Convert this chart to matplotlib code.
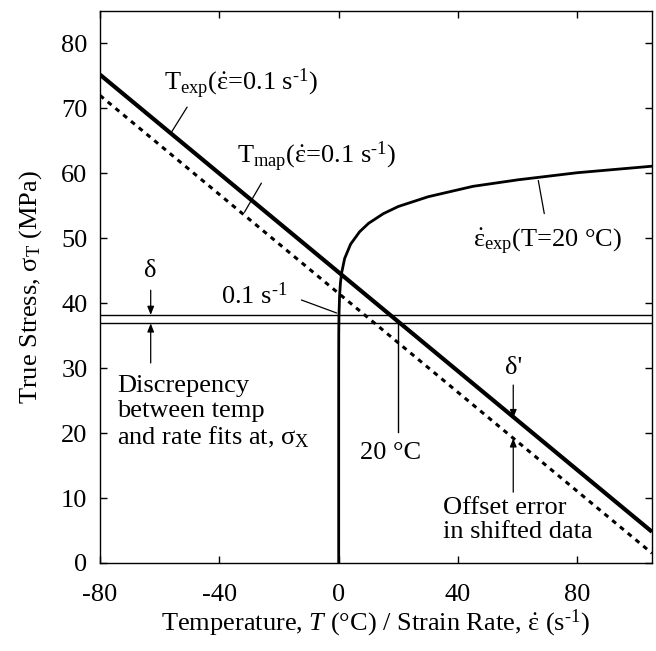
import numpy as np
import matplotlib
matplotlib.use("Agg")
import matplotlib.pyplot as plt

plt.rcParams["font.family"] = ["Liberation Serif", "DejaVu Serif"]
plt.rcParams["mathtext.fontset"] = "custom"
plt.rcParams["mathtext.rm"] = "Liberation Serif"
plt.rcParams["mathtext.it"] = "Liberation Serif:italic"
plt.rcParams["mathtext.bf"] = "Liberation Serif:bold"
plt.rcParams["axes.unicode_minus"] = False

# straight fits: temperature axis (deg C) vs true stress (MPa)
temp_ends = [-80, 105]
t_exp_stress = [75.2, 4.8]
t_map_stress = [72.0, 1.5]

# strain-rate curve at 20 C
rate = [0.0, 0.0005, 0.003, 0.01, 0.03, 0.1, 0.3, 0.6, 1.0, 2.0, 4.0, 7.0,
        10.0, 15.0, 20.0, 30.0, 45.0, 60.0, 80.0, 105.0]
rate_stress = [0.0, 26.0, 30.5, 32.8, 35.5, 38.2, 41.2, 43.2, 44.7, 46.9,
               49.1, 51.0, 52.3, 53.8, 54.9, 56.4, 58.0, 59.0, 60.1, 61.1]

# the two horizontal stress levels and the 20 C marker
sigma_rate = 38.2
sigma_temp = 36.9
t_ref = 20

xticks = [-80, -40, 0, 40, 80]
yticks = [0, 10, 20, 30, 40, 50, 60, 70, 80]

EPSD = r"$\dot{\mathrm{ε}}$"
INV_S = r"s$^{\text{-1}}$"

fig = plt.figure(figsize=(6.56, 6.51), dpi=100)
ax = fig.add_axes([0.1524, 0.1352, 0.9939 - 0.1524, 0.9831 - 0.1352])

ax.plot(temp_ends, t_exp_stress, color="black", lw=3.0, solid_capstyle="butt")
ax.plot(temp_ends, t_map_stress, color="black", lw=2.2,
        linestyle=(0, (1.6, 1.7)))
ax.plot(rate, rate_stress, color="black", lw=2.0)

ax.axhline(sigma_rate, color="black", lw=1.0)
ax.axhline(sigma_temp, color="black", lw=1.0)
ax.plot([t_ref, t_ref], [sigma_temp, 20.2], color="black", lw=1.0)

fs = 19
arrow = dict(arrowstyle="-|>,head_length=0.5,head_width=0.2", color="black",
             lw=0.9, shrinkA=0, shrinkB=0)
leader = dict(arrowstyle="-", color="black", lw=0.9, shrinkA=0, shrinkB=0)

ax.text(-58.5, 73.8, r"T$_{\rm exp}$(" + EPSD + "=0.1 " + INV_S + ")",
        fontsize=fs, va="center", ha="left")
ax.annotate("", xy=(-56.1, 66.3), xytext=(-50.8, 70.2), arrowprops=leader)

ax.text(-34.0, 62.5, r"T$_{\rm map}$(" + EPSD + "=0.1 " + INV_S + ")",
        fontsize=fs, va="center", ha="left")
ax.annotate("", xy=(-31.6, 54.0), xytext=(-25.9, 58.5), arrowprops=leader)

ax.text(45.0, 49.4, r"$\dot{\mathrm{ε}}_{\rm exp}$(T=20 °C)",
        fontsize=fs, va="center", ha="left")
ax.annotate("", xy=(66.9, 58.9), xytext=(68.9, 53.8), arrowprops=leader)

ax.text(-39.3, 41.2, "0.1 " + INV_S, fontsize=fs, va="center", ha="left")
ax.annotate("", xy=(-0.7, 38.5), xytext=(-12.5, 40.5), arrowprops=leader)

ax.text(-63.0, 45.0, "δ", fontsize=fs, va="center", ha="center")
ax.annotate("", xy=(-63.0, sigma_rate), xytext=(-63.0, 42.0), arrowprops=arrow)
ax.annotate("", xy=(-63.0, sigma_temp), xytext=(-63.0, 30.8), arrowprops=arrow)

ax.text(-74.3, 29.0, "Discrepency\nbetween temp\nand rate fits at, σ$_{\\rm X}$",
        fontsize=fs, va="top", ha="left", linespacing=1.18)

ax.text(7.0, 16.9, "20 °C", fontsize=fs, va="center", ha="left")

ax.text(58.5, 30.0, "δ'", fontsize=fs, va="center", ha="center")
ax.annotate("", xy=(58.5, 22.3), xytext=(58.5, 27.4), arrowprops=arrow)
ax.annotate("", xy=(58.5, 19.2), xytext=(58.5, 10.9), arrowprops=arrow)

ax.text(35.0, 10.2, "Offset error\nin shifted data", fontsize=fs,
        va="top", ha="left", linespacing=1.15)

ax.set_xlim(-80, 105)
ax.set_ylim(0, 85)
ax.set_xticks(xticks)
ax.set_yticks(yticks)
ax.tick_params(direction="in", length=5, width=1.0, top=True, right=True,
               labelsize=fs, pad=9)
ax.tick_params(axis="x", pad=15)
for s in ax.spines.values():
    s.set_linewidth(1.0)

ax.set_xlabel("Temperature, $T$ (°C) / Strain Rate, " + EPSD + " (" + INV_S + ")",
              fontsize=fs, labelpad=1)
ax.set_ylabel(r"True Stress, σ$_{\rm T}$ (MPa)", fontsize=fs, labelpad=12)

fig.savefig("out.png", dpi=100)
